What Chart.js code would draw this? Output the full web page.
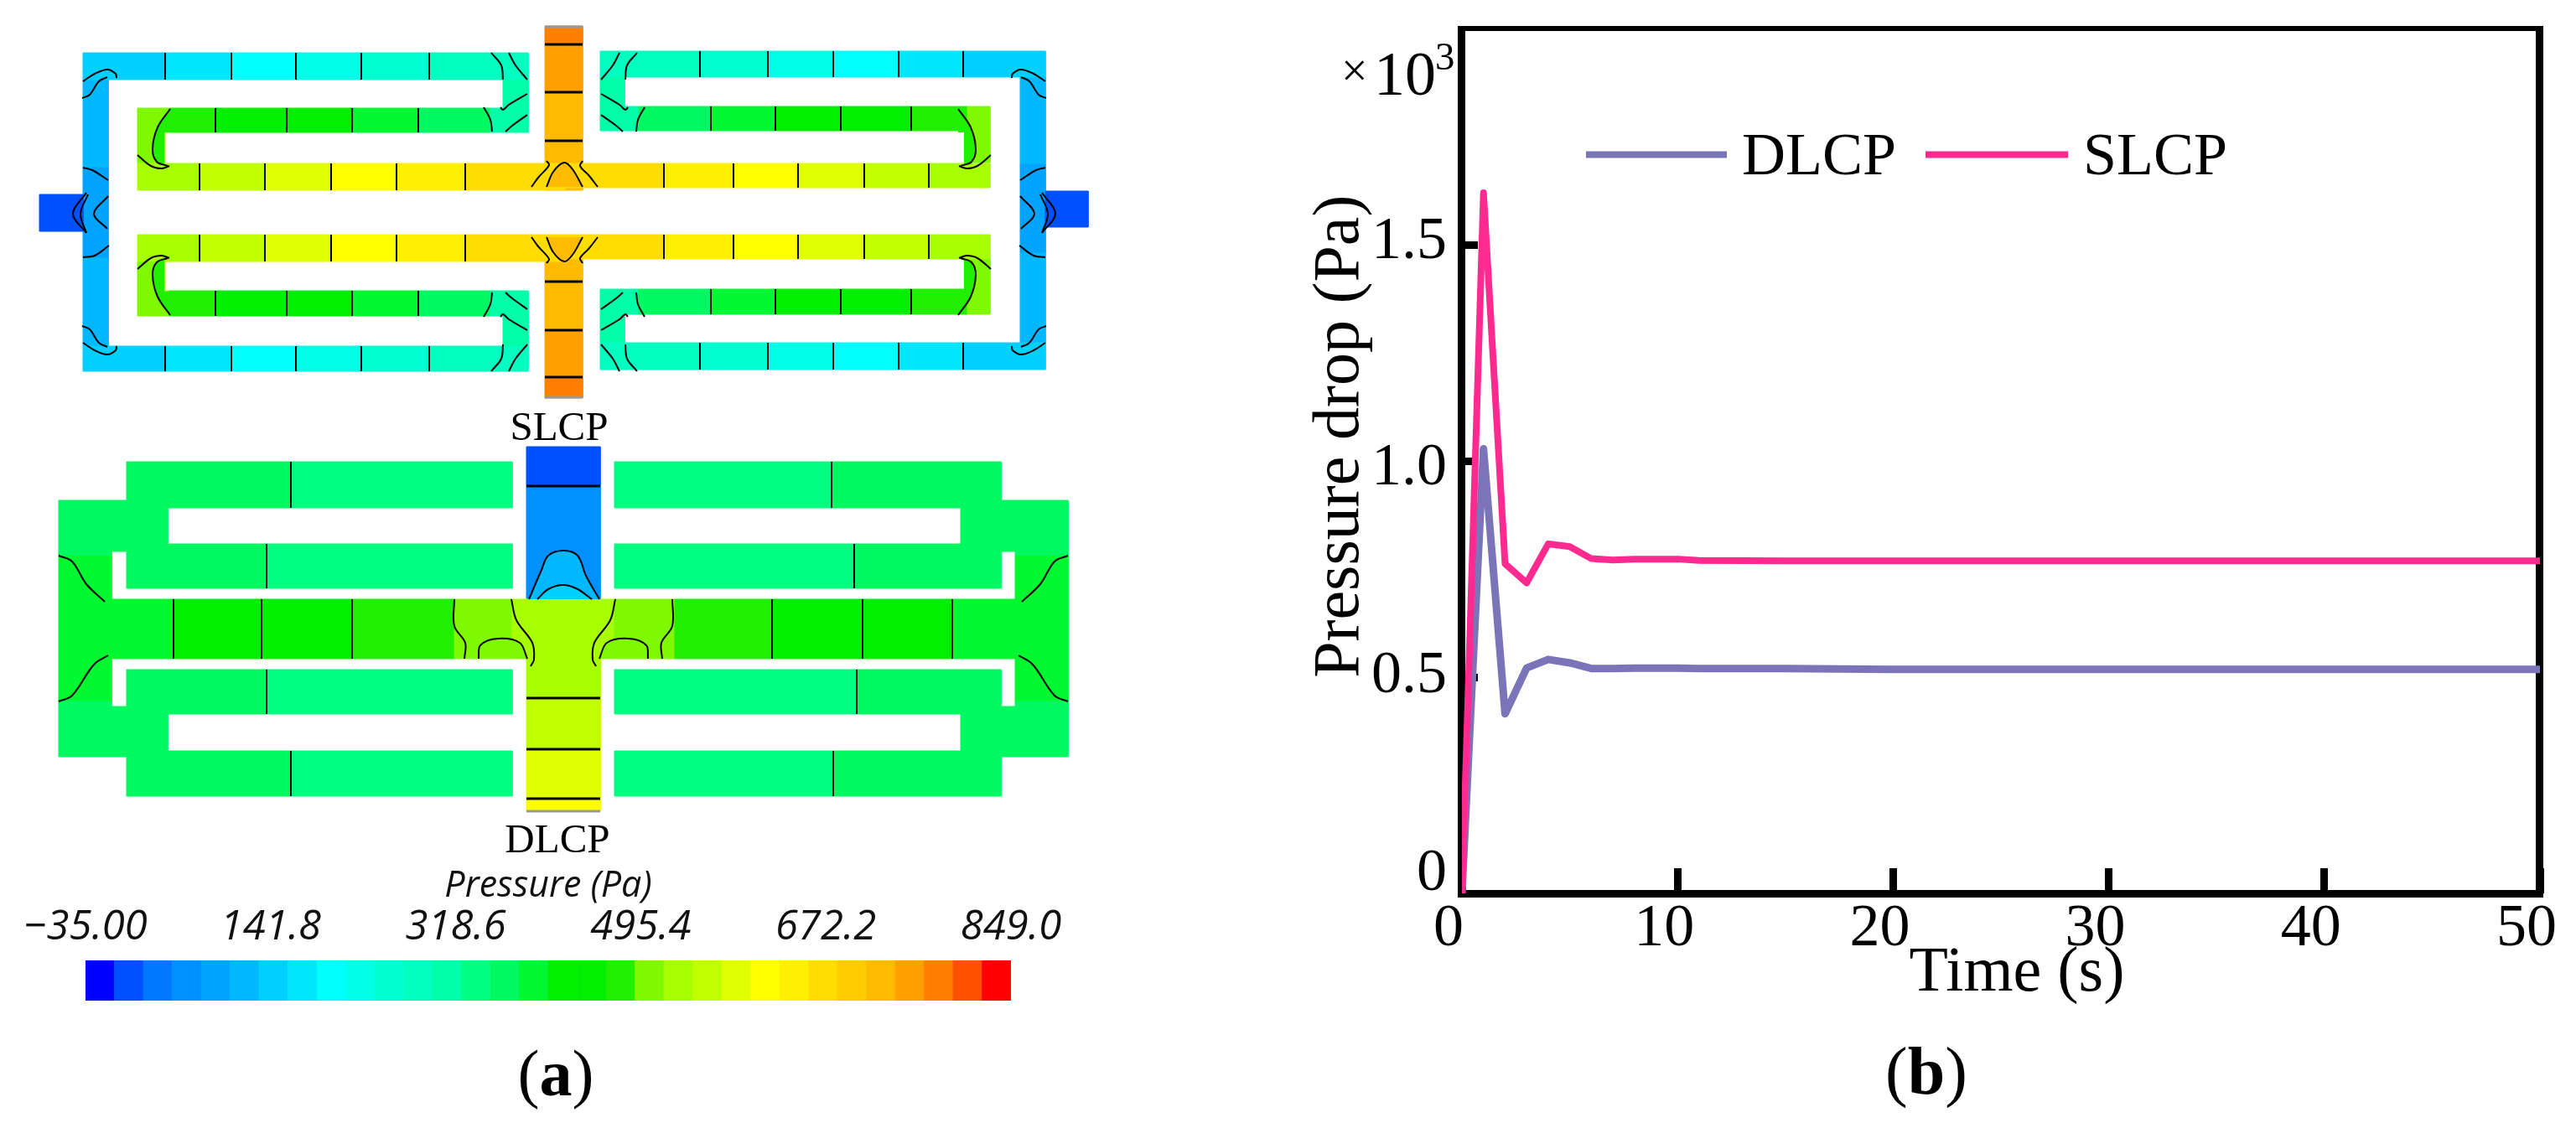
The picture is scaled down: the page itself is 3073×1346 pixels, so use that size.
<!DOCTYPE html>
<html>
<head>
<meta charset="utf-8">
<title>Pressure drop</title>
<script src="https://cdn.jsdelivr.net/npm/chart.js@4"></script>
<style>
html, body { margin: 0; padding: 0; background: #fff; }
body { position: relative; width: 3073px; height: 1346px; overflow: hidden; font-family: "Liberation Serif", serif; color: #000; }
canvas { position: absolute; }
.txt { position: absolute; line-height: 1; white-space: nowrap; }
</style>
</head>
<body>
<canvas id="panelA" width="1500" height="1346" style="left:0;top:0"></canvas>
<canvas id="colorBar" width="1350" height="180" style="left:0;top:1020px"></canvas>
<canvas id="panelB" width="1573" height="1346" style="left:1500px;top:0"></canvas>

<div class="txt" style="left:667px;top:484px;font-size:49px;transform:translateX(-50%)">SLCP</div>
<div class="txt" style="left:665px;top:976px;font-size:49px;transform:translateX(-50%)">DLCP</div>
<div class="txt" style="left:663px;top:1242px;font-size:78px;transform:translateX(-50%)">(<b>a</b>)</div>
<div class="txt" style="left:2298px;top:1238px;font-size:80px;transform:translateX(-50%)">(<b>b</b>)</div>
<div class="txt" style="left:1600px;top:56px;font-size:56px">×</div>
<div class="txt" style="left:1639px;top:51px;font-size:74px">10</div>
<div class="txt" style="left:1712px;top:44px;font-size:47px">3</div>

<script>
// panel (b) - pressure drop, values in 10^3 Pa
const timeS = [0, 1, 2, 3, 4, 5, 6, 7, 8, 9, 10, 11, 15, 20, 30, 40, 50];
const dlcp = [0, 1.028, 0.415, 0.521, 0.541, 0.533, 0.520, 0.520, 0.521, 0.521, 0.521, 0.520, 0.520, 0.518, 0.518, 0.518, 0.518];
const slcp = [0, 1.620, 0.762, 0.718, 0.808, 0.802, 0.774, 0.771, 0.773, 0.773, 0.773, 0.770, 0.769, 0.769, 0.769, 0.769, 0.769];
const yTicks = [0, 0.5, 1, 1.5];
const yTickLabels = ['0', '0.5', '1.0', '1.5'];
const yLabelShift = [-23, -1, 9, -3];

// colour legend of panel (a)
const cellColors = ['#0000ff', '#0050ff', '#0078ff', '#0090ff', '#00a4ff', '#00b8ff', '#00d0ff', '#00e6ff',
    '#00ffff', '#00ffe6', '#00ffd0', '#00ffc0', '#00ffa8', '#00ff80', '#00f860', '#00f830',
    '#00ee00', '#00ee00', '#20f000', '#80f800', '#a8ff00', '#c0ff00', '#e0ff00', '#ffff00',
    '#fff000', '#ffdd00', '#ffcc00', '#ffbb00', '#ffa000', '#ff8000', '#ff5000', '#ff0000'];
const barTickValues = [-35, 141.8, 318.6, 495.4, 672.2, 849];
const barTickLabels = ['\u221235.00', '141.8', '318.6', '495.4', '672.2', '849.0'];

// panel (a) channels, x/y in figure units, levels index cellColors
const rowAL = [[99, 197, 276, 353, 431, 512, 630], [6, 7, 8, 9, 10, 11]];
const rowBL = [[164, 202, 257, 342, 420, 499, 585, 630], [19, 18, 16, 16, 15, 14, 12]];
const rowCL = [[164, 238, 316, 395, 473, 555, 673], [20, 21, 22, 23, 24, 25]];
const rowAR = [[716, 835, 916, 994, 1072, 1149, 1247], [11, 10, 9, 8, 7, 6]];
const rowBR = [[716, 762, 848, 925, 1003, 1087, 1154, 1181], [12, 14, 15, 16, 17, 18, 19]];
const rowCR = [[673, 792, 875, 952, 1031, 1108, 1181], [25, 24, 23, 22, 21, 20]];
const bandD = [[70, 207, 312, 420, 542, 611, 733, 805, 921, 1029, 1136, 1274], [15, 16, 17, 18, 19, 20, 19, 18, 17, 16, 15]];
// these cell edges are drawn as curves further down
const curvedEdges = [202, 585, 762, 1154, 542, 611, 733, 805];

const rows = [
    [63, 95, rowAL], [129, 158, rowBL], [195, 227, rowCL], [280, 312, rowCL], [347, 377, rowBL], [413, 443, rowAL],
    [61, 92, rowAR], [127, 156, rowBR], [195, 224, rowCR], [280, 309, rowCR], [345, 375, rowBR], [409, 441, rowAR],
    [551, 606, [[151, 347, 611], [14, 13]]], [649, 702, [[151, 318, 611], [14, 13]]],
    [799, 852, [[151, 318, 611], [14, 13]]], [896, 950, [[151, 347, 611], [14, 13]]],
    [551, 606, [[733, 992, 1194], [13, 14]]], [649, 702, [[733, 1019, 1194], [13, 14]]],
    [799, 852, [[733, 1022, 1194], [13, 14]]], [896, 950, [[733, 994, 1194], [13, 14]]],
    [715, 786, bandD]
];
const stacks = [
    [650, 695, [31, 53, 110, 168, 227], [29, 28, 27, 27]],
    [650, 695, [282, 336, 394, 450, 475], [27, 27, 28, 29]],
    [628, 716, [533, 580, 715], [1, 3]],
    [628, 716, [715, 833, 894, 953, 968], [20, 21, 22, 23]]
];
const blocks = [
    [99, 95, 129, 200, 5], [99, 200, 129, 308, 4], [99, 308, 129, 413, 5], [47, 232, 99, 276, 1],
    [1217, 92, 1247, 196, 5], [1217, 196, 1247, 302, 4], [1217, 302, 1247, 409, 5], [1247, 228, 1298, 271, 1],
    [600, 95, 630, 129, 12], [600, 377, 630, 413, 12], [716, 92, 745, 127, 12], [716, 375, 745, 409, 12],
    [164, 158, 196, 195, 19], [164, 312, 196, 347, 19], [1152, 156, 1181, 194, 19], [1152, 309, 1181, 345, 19],
    [70, 597, 133, 663, 14], [70, 663, 133, 715, 15], [70, 786, 133, 837, 15], [70, 837, 133, 903, 14],
    [133, 597, 151, 658, 14], [133, 843, 151, 903, 14], [151, 606, 200, 649, 14], [151, 852, 200, 896, 14],
    [1211, 597, 1274, 663, 14], [1211, 663, 1274, 715, 15], [1211, 786, 1274, 837, 15], [1211, 837, 1274, 903, 14],
    [1194, 597, 1211, 658, 14], [1194, 843, 1211, 903, 14], [1146, 606, 1194, 649, 14], [1146, 852, 1194, 896, 14]
];
// contour lines, [x, y, x, y ...]
const topCurves = [
    [99, 97, 113, 88, 128, 83, 138, 88, 139, 93],
    [98, 117, 107, 113, 118, 97, 128, 92],
    [586, 63, 598, 78, 600, 95], [607, 63, 615, 78, 629, 95],
    [629, 112, 607, 125, 600, 131, 597, 128],
    [577, 128, 585, 143, 587, 157], [629, 137, 611, 150, 603, 157],
    [164, 185, 180, 198, 193, 201, 202, 198],
    [203, 130, 188, 152, 182, 178, 187, 193, 200, 198]
];
const arcCurves = [
    [634, 223, 642, 212, 655, 197, 652, 192],
    [713, 223, 703, 210, 692, 198, 695, 192]
];
const stubCurves = [
    [103, 230, 87, 255, 103, 278], [105, 232, 96, 255, 103, 278],
    [129, 234, 112, 255, 128, 273],
    [99, 200, 110, 203, 129, 215], [130, 293, 113, 305, 99, 307]
];
const bandCurves = [
    [542, 715, 542, 747, 555, 767, 554, 786],
    [610, 715, 616, 740, 635, 767, 637, 787, 633, 795],
    [70, 663, 86, 670, 103, 697, 125, 718],
    [129, 782, 112, 793, 86, 830, 70, 837]
];
const blueArches = [
    [[631, 715, 646, 680, 654, 663, 672, 657, 689, 663, 699, 687, 715, 715], 5],
    [[641, 715, 654, 703, 672, 698, 689, 703, 706, 715], 6]
];
const humps = [[571, 786, 573, 770, 594, 762, 620, 767, 629, 786], 19];
const innerArch = [[652, 223, 660, 205, 673, 194, 683, 202, 695, 223], 27];
const bendFill = [[203, 130, 188, 152, 182, 178, 187, 193, 200, 198, 196, 195, 196, 158, 203, 158], 18];
const caps = [[650, 695, 32], [650, 695, 474], [628, 716, 968]];

function toPoints(flat, mx, my) {
    let pts = [];
    for (let i = 0; i < flat.length; i += 2) {
        pts.push({ x: mx ? mx(flat[i]) : flat[i], y: my ? my(flat[i + 1]) : flat[i + 1] });
    }
    return pts;
}

function rectSet(x1, y1, x2, y2, lv) {
    return {
        data: [{ x: x1, y: y1 }, { x: x2, y: y1 }, { x: x2, y: y2 }, { x: x1, y: y2 }, { x: x1, y: y1 }],
        showLine: true, fill: 'shape', backgroundColor: cellColors[lv], borderColor: cellColors[lv],
        borderWidth: 1, pointRadius: 0, clip: false
    };
}

function lineSet(pts, width, color, tension) {
    return { data: pts, showLine: true, fill: false, borderColor: color || '#000', borderWidth: width, pointRadius: 0, tension: tension || 0, clip: false };
}

function filledCurve(pts, lv) {
    let set = lineSet(pts, 2, '#000', 0.35);
    set.fill = 'shape';
    set.backgroundColor = cellColors[lv];
    return set;
}

function panelDatasets() {
    let fills = [];
    let lines = [];
    blocks.forEach(b => fills.push(rectSet(b[0], b[1], b[2], b[3], b[4])));
    stacks.forEach(s => {
        s[3].forEach((l, i) => {
            fills.push(rectSet(s[0], s[2][i], s[1], s[2][i + 1], l));
            if (i > 0) lines.push(lineSet([{ x: s[0], y: s[2][i] }, { x: s[1], y: s[2][i] }], 3));
        });
    });
    rows.forEach(r => {
        let xs = r[2][0];
        let lv = r[2][1];
        lv.forEach((l, i) => {
            fills.push(rectSet(xs[i], r[0], xs[i + 1], r[1], l));
            if (i > 0 && !curvedEdges.includes(xs[i])) {
                lines.push(lineSet([{ x: xs[i], y: r[0] }, { x: xs[i], y: r[1] }], 2));
            }
        });
    });
    blueArches.forEach(a => lines.push(filledCurve(toPoints(a[0]), a[1])));
    let mirrorX = x => 1346 - x;
    let mirrorY = y => 506 - y;
    let bandX = x => 1344 - x;
    [null, bandX].forEach(mx => lines.push(filledCurve(toPoints(humps[0], mx), humps[1])));
    [null, mirrorY].forEach(my => lines.push(filledCurve(toPoints(innerArch[0], null, my), innerArch[1])));
    [[null, null], [mirrorX, null], [null, mirrorY], [mirrorX, mirrorY]].forEach(m => {
        let set = filledCurve(toPoints(bendFill[0], m[0], m[1]), bendFill[1]);
        set.borderWidth = 0;
        set.tension = 0;
        lines.push(set);
    });
    topCurves.forEach(c => {
        [[null, null], [mirrorX, null], [null, mirrorY], [mirrorX, mirrorY]].forEach(m => {
            lines.push(lineSet(toPoints(c, m[0], m[1]), 2, '#000', 0.35));
        });
    });
    arcCurves.forEach(c => {
        [null, mirrorY].forEach(my => lines.push(lineSet(toPoints(c, null, my), 2, '#000', 0.35)));
    });
    stubCurves.forEach(c => {
        [null, mirrorX].forEach(mx => lines.push(lineSet(toPoints(c, mx), 2, '#000', 0.35)));
    });
    bandCurves.forEach(c => {
        [null, bandX].forEach(mx => lines.push(lineSet(toPoints(c, mx), 2, '#000', 0.35)));
    });
    caps.forEach(c => lines.push(lineSet([{ x: c[0], y: c[2] }, { x: c[1], y: c[2] }], 3, '#999')));
    // first dataset is painted last
    return fills.concat(lines).reverse();
}

new Chart(document.getElementById('panelA'), {
    type: 'scatter',
    data: { datasets: panelDatasets() },
    options: {
        responsive: false,
        animation: false,
        events: [],
        layout: { padding: 0 },
        plugins: { legend: { display: false }, tooltip: { enabled: false } },
        scales: {
            x: { type: 'linear', min: 0, max: 1500, display: false },
            y: { type: 'linear', min: 0, max: 1346, reverse: true, display: false }
        }
    }
});

new Chart(document.getElementById('colorBar'), {
    type: 'bar',
    data: {
        labels: cellColors.map((c, i) => String(i)),
        datasets: [{
            data: cellColors.map(() => 1),
            backgroundColor: cellColors,
            borderWidth: 0,
            barPercentage: 1,
            categoryPercentage: 1
        }]
    },
    options: {
        responsive: false,
        animation: false,
        events: [],
        layout: { padding: { left: 102, right: 144, top: 0, bottom: 6 } },
        plugins: { legend: { display: false }, tooltip: { enabled: false } },
        scales: {
            x: { display: false },
            y: { display: false, min: 0, max: 1 },
            p: {
                type: 'linear',
                axis: 'x',
                position: 'top',
                offset: false,
                min: -35,
                max: 849,
                grid: { display: false, drawTicks: false, offset: false },
                border: { display: false },
                afterBuildTicks: s => { s.ticks = barTickValues.map(v => ({ value: v })); },
                afterFit: s => { s.height = 126; s.paddingLeft = 0; s.paddingRight = 0; },
                ticks: {
                    autoSkip: false,
                    maxRotation: 0,
                    padding: 10,
                    color: '#111',
                    font: { family: '"Open Sans"', size: 49, style: 'italic' },
                    callback: v => barTickLabels[barTickValues.indexOf(v)]
                },
                title: {
                    display: true,
                    text: 'Pressure (Pa)',
                    color: '#111',
                    padding: { top: 12, bottom: 0 },
                    font: { family: '"Open Sans"', size: 43, style: 'italic' }
                }
            }
        }
    }
});

// the box has a thin top and heavy other sides, and the legend sits inside it
const framePlugin = {
    id: 'frame',
    beforeDatasetsDraw(chart) {
        const a = chart.chartArea;
        const ctx = chart.ctx;
        ctx.save();
        ctx.fillStyle = '#000';
        ctx.fillRect(a.left - 5, a.top - 3, a.right - a.left + 9, 6);
        ctx.fillRect(a.left - 5, a.bottom - 4, a.right - a.left + 9, 9);
        ctx.fillRect(a.left - 5, a.top - 3, 9, a.bottom - a.top + 8);
        ctx.fillRect(a.right - 5, a.top - 3, 9, a.bottom - a.top + 8);
        ctx.restore();
    },
    beforeDraw(chart) {
        // y labels do not sit level with their ticks in the original
        const s = chart.scales.y;
        s.getLabelItems(chart.chartArea).forEach((item, i) => {
            if (!item.moved) {
                item.options.translation[1] += yLabelShift[i];
                item.moved = true;
            }
        });
    },
    afterDraw(chart) {
        const ctx = chart.ctx;
        const spots = [[392, 560, 578], [797, 967, 985]];
        ctx.save();
        ctx.font = '72px "Liberation Serif"';
        ctx.textBaseline = 'alphabetic';
        chart.data.datasets.forEach((d, i) => {
            ctx.strokeStyle = d.borderColor;
            ctx.lineWidth = 8;
            ctx.beginPath();
            ctx.moveTo(spots[i][0], 184.5);
            ctx.lineTo(spots[i][1], 184.5);
            ctx.stroke();
            ctx.fillStyle = '#000';
            ctx.fillText(d.label, spots[i][2], 208);
        });
        ctx.restore();
    }
};

new Chart(document.getElementById('panelB'), {
    type: 'line',
    data: {
        datasets: [
            { label: 'DLCP', data: timeS.map((t, i) => ({ x: t, y: dlcp[i] })), borderColor: '#7b74b8', borderWidth: 9, order: 2 },
            { label: 'SLCP', data: timeS.map((t, i) => ({ x: t, y: slcp[i] })), borderColor: '#ff2a8f', borderWidth: 8, order: 1 }
        ]
    },
    options: {
        responsive: false,
        animation: false,
        events: [],
        layout: { padding: { left: 0, right: 43, top: 34, bottom: 0 } },
        elements: { point: { radius: 0 }, line: { tension: 0, borderJoinStyle: 'round', fill: false } },
        plugins: { legend: { display: false }, tooltip: { enabled: false } },
        scales: {
            x: {
                type: 'linear',
                min: 0,
                max: 50,
                afterFit: s => { s.height = 280; s.paddingLeft = 0; s.paddingRight = 0; },
                grid: { drawOnChartArea: false, tickLength: -30, tickWidth: 9, tickColor: '#000' },
                border: { display: false },
                ticks: {
                    stepSize: 10,
                    maxRotation: 0,
                    labelOffset: -16,
                    padding: 30,
                    color: '#000',
                    font: { family: '"Liberation Serif"', size: 72 }
                },
                title: {
                    display: true,
                    text: '  Time (s)',
                    color: '#000',
                    padding: { top: 0, bottom: 138 },
                    font: { family: '"Liberation Serif"', size: 76 }
                }
            },
            y: {
                type: 'linear',
                min: 0,
                max: 2,
                afterBuildTicks: s => { s.ticks = yTicks.map(v => ({ value: v })); },
                afterFit: s => { s.width = 244; s.paddingTop = 0; s.paddingBottom = 0; },
                grid: { drawOnChartArea: false, tickLength: -19, tickWidth: 9, tickColor: '#000' },
                border: { display: false },
                ticks: {
                    autoSkip: false,
                    padding: 37,
                    color: '#000',
                    font: { family: '"Liberation Serif"', size: 72 },
                    callback: v => yTickLabels[yTicks.indexOf(v)]
                },
                title: {
                    display: true,
                    text: '   Pressure drop (Pa)',
                    color: '#000',
                    padding: { top: 53, bottom: 0 },
                    font: { family: '"Liberation Serif"', size: 78 }
                }
            }
        }
    },
    plugins: [framePlugin]
});
</script>
</body>
</html>
